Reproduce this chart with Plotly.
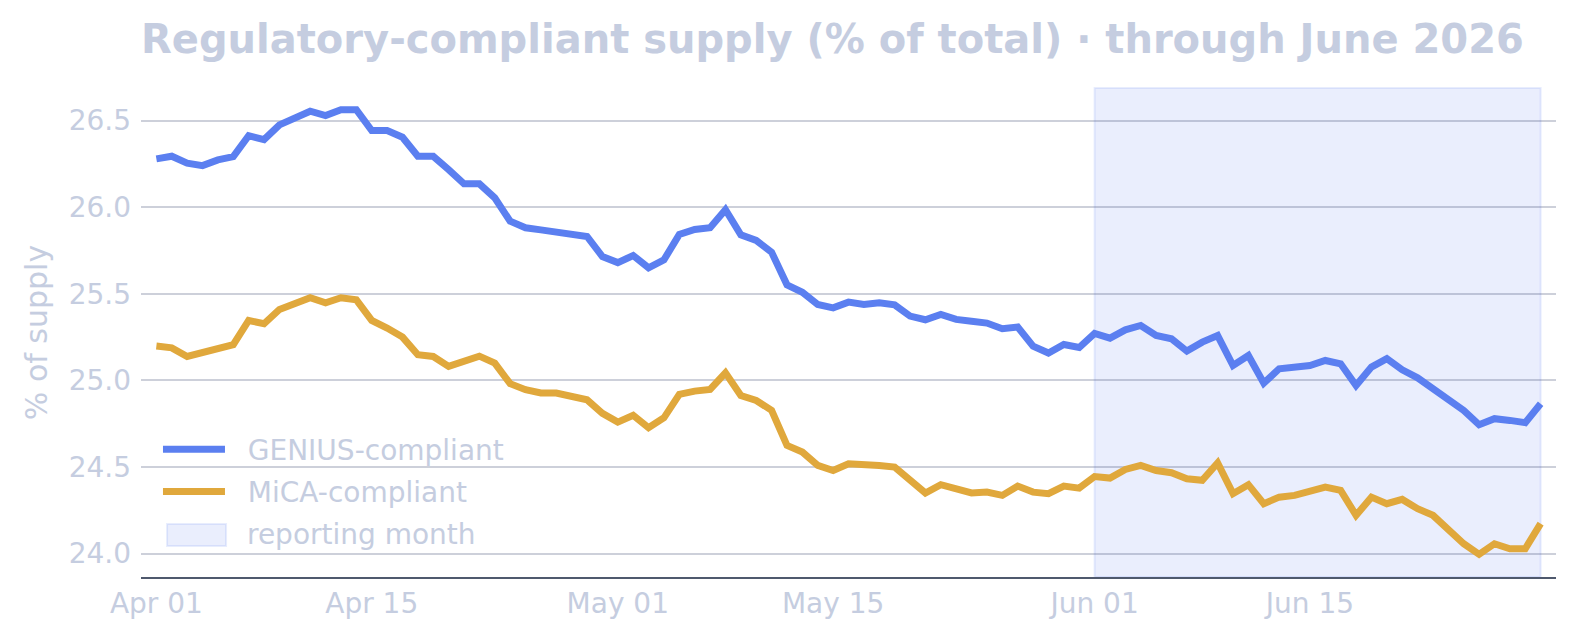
import pandas as pd
import plotly.graph_objects as go

dates = pd.date_range("2026-04-01", "2026-06-30", freq="D")

genius = [26.279, 26.294, 26.254, 26.240, 26.273, 26.292, 26.413, 26.390, 26.475, 26.513,
          26.554, 26.529, 26.563, 26.563, 26.442, 26.442, 26.404, 26.294, 26.294, 26.217,
          26.135, 26.135, 26.054, 25.919, 25.881, 25.869, 25.858, 25.840, 25.831, 25.715,
          25.680, 25.721, 25.650, 25.696, 25.842, 25.871, 25.881, 25.985, 25.840, 25.808,
          25.740, 25.552, 25.509, 25.438, 25.419, 25.452, 25.438, 25.448, 25.436, 25.371,
          25.350, 25.381, 25.352, 25.342, 25.331, 25.298, 25.308, 25.198, 25.158, 25.207,
          25.190, 25.271, 25.244, 25.292, 25.317, 25.259, 25.240, 25.169, 25.221, 25.259,
          25.086, 25.144, 24.984, 25.067, 25.077, 25.086, 25.115, 25.096, 24.971, 25.077,
          25.125, 25.061, 25.015, 24.952, 24.880, 24.827, 24.744, 24.779, 24.769, 24.756,
          24.865]

mica = [25.198, 25.188, 25.138, 25.158, 25.188, 25.206,
        25.346, 25.327, 25.409, 25.442, 25.477, 25.448, 25.477, 25.465, 25.346, 25.302, 25.250,
        25.148, 25.138, 25.081, 25.111, 25.140, 25.100, 24.981, 24.946, 24.927, 24.927, 24.907, 24.888,
        24.810, 24.759, 24.798, 24.727, 24.784, 24.919, 24.938, 24.948, 25.044, 24.913, 24.884,
        24.827, 24.625, 24.586, 24.509, 24.480, 24.519, 24.509, 24.509, 24.500, 24.428, 24.350,
        24.398, 24.369, 24.350, 24.355, 24.336, 24.390, 24.355, 24.346, 24.390, 24.378, 24.445,
        24.436, 24.486, 24.509, 24.480, 24.467, 24.432, 24.423, 24.523, 24.346, 24.398, 24.288,
        24.326, 24.336, 24.355, 24.384, 24.365, 24.221, 24.326, 24.288, 24.313, 24.259, 24.221,
        24.138, 24.057, 23.996, 24.057, 24.028, 24.028, 24.173]

series_names = ["GENIUS-compliant", "MiCA-compliant"]
shade_name = "reporting month"
shade_start, shade_end = "2026-06-01", "2026-06-30"
x_tickvals = ["2026-04-01", "2026-04-15", "2026-05-01", "2026-05-15", "2026-06-01", "2026-06-15"]
x_ticktext = ["Apr 01", "Apr 15", "May 01", "May 15", "Jun 01", "Jun 15"]
y_tickvals = [24.0, 24.5, 25.0, 25.5, 26.0, 26.5]

TXT = "#c5cde0"
FONT = "DejaVu Sans"
SHADE_FILL = "rgba(91,127,240,0.13)"
SHADE_LINE = "rgba(91,127,240,0.14)"
GAP = "\u00a0\u00a0"

fig = go.Figure()
fig.add_trace(go.Scatter(x=dates, y=genius, name=GAP + series_names[0], mode="lines",
                         line=dict(color="#5b7ff0", width=7), legendgroup="a"))
fig.add_trace(go.Scatter(x=dates, y=mica, name=GAP + series_names[1], mode="lines",
                         line=dict(color="#e0a83c", width=7), legendgroup="b"))

# reporting-month band
fig.add_shape(type="rect", xref="x", yref="paper", x0=shade_start, x1=shade_end, y0=0, y1=1,
              fillcolor=SHADE_FILL, line=dict(color=SHADE_LINE, width=2), layer="below")

# legend entry for the band (patch + label)
fig.add_shape(type="rect", xref="paper", yref="paper", x0=0.0184, x1=0.0601, y0=0.0634, y1=0.1084,
              fillcolor=SHADE_FILL, line=dict(color=SHADE_LINE, width=2))
fig.add_annotation(text=shade_name, xref="paper", yref="paper", x=0.0738, y=0.0859,
                   xanchor="left", yanchor="middle", showarrow=False,
                   font=dict(family=FONT, size=28, color=TXT))

fig.update_layout(
    width=1579, height=641,
    margin=dict(l=141, r=23, t=88, b=64),
    paper_bgcolor="white", plot_bgcolor="white",
    font=dict(family=FONT, color=TXT, size=28),
    title=dict(text="<b>Regulatory-compliant supply (% of total) · through June 2026</b>",
               font=dict(family=FONT, size=40, color=TXT),
               x=141/1579, xanchor="left", xref="container", y=1-39/641, yanchor="middle"),
    showlegend=True,
    legend=dict(x=0.012, y=0.312, xanchor="left", yanchor="top", bgcolor="rgba(0,0,0,0)",
                font=dict(family=FONT, size=28, color=TXT), tracegroupgap=3, itemwidth=62),
    xaxis=dict(range=["2026-03-31", "2026-07-01"], tickvals=x_tickvals, ticktext=x_ticktext,
               showgrid=False, showline=True, linecolor="#4f596d", linewidth=2,
               ticks="", tickfont=dict(size=28, color=TXT), zeroline=False),
    yaxis=dict(range=[23.865, 26.688], tickvals=y_tickvals, tickformat=".1f",
               showgrid=True, gridcolor="rgba(70,80,120,0.27)", gridwidth=2,
               showline=False, zeroline=False, ticks="", ticklabelstandoff=9,
               tickfont=dict(size=28, color=TXT),
               title=dict(text="% of supply", font=dict(size=30, color=TXT), standoff=12)),
)

fig.write_html("out.html")
